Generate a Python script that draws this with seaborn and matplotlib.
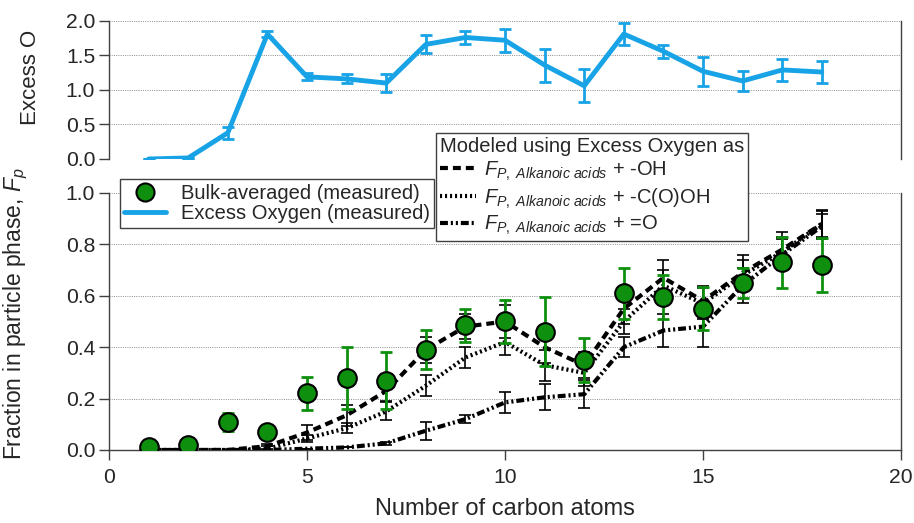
import matplotlib
matplotlib.use("Agg")
import matplotlib.pyplot as plt
from matplotlib.lines import Line2D
import seaborn as sns
import numpy as np
import pandas as pd

# ---------------- data ----------------
carbon = [1, 2, 3, 4, 5, 6, 7, 8, 9, 10, 11, 12, 13, 14, 15, 16, 17, 18]

excess_o = [0.0, 0.015, 0.38, 1.81, 1.19, 1.16, 1.10, 1.66, 1.76, 1.72, 1.36, 1.06, 1.81, 1.56, 1.27, 1.13, 1.29, 1.26]
excess_o_err = [0.0, 0.0, 0.09, 0.05, 0.05, 0.065, 0.13, 0.13, 0.10, 0.17, 0.24, 0.24, 0.165, 0.09, 0.21, 0.14, 0.165, 0.16]

bulk = [0.01, 0.02, 0.11, 0.07, 0.22, 0.28, 0.27, 0.39, 0.485, 0.50, 0.46, 0.35, 0.61, 0.595, 0.55, 0.65, 0.73, 0.72]
bulk_err = [0.0, 0.0, 0.035, 0.01, 0.065, 0.12, 0.11, 0.075, 0.065, 0.085, 0.135, 0.085, 0.10, 0.085, 0.085, 0.06, 0.10, 0.105]

model_oh = [0.0, 0.0, 0.0, 0.015, 0.068, 0.135, 0.23, 0.39, 0.48, 0.50, 0.40, 0.33, 0.55, 0.67, 0.58, 0.69, 0.78, 0.88]
model_oh_err = [0.0, 0.0, 0.0, 0.01, 0.03, 0.04, 0.04, 0.05, 0.05, 0.065, 0.06, 0.05, 0.06, 0.07, 0.06, 0.07, 0.07, 0.055]

model_cooh = [0.0, 0.0, 0.0, 0.005, 0.045, 0.085, 0.15, 0.25, 0.36, 0.42, 0.33, 0.30, 0.50, 0.64, 0.57, 0.68, 0.77, 0.88]
model_cooh_err = [0.0, 0.0, 0.0, 0.01, 0.015, 0.02, 0.035, 0.04, 0.04, 0.05, 0.06, 0.05, 0.05, 0.06, 0.06, 0.06, 0.06, 0.05]

model_o = [0.0, 0.0, 0.0, 0.0, 0.005, 0.01, 0.026, 0.075, 0.12, 0.185, 0.205, 0.217, 0.40, 0.465, 0.48, 0.64, 0.76, 0.87]
model_o_err = [0.0, 0.0, 0.0, 0.0, 0.0, 0.0, 0.005, 0.035, 0.015, 0.04, 0.05, 0.055, 0.04, 0.065, 0.08, 0.07, 0.06, 0.05]

top_yticks = [0.0, 0.5, 1.0, 1.5, 2.0]
bottom_yticks = [0.0, 0.2, 0.4, 0.6, 0.8, 1.0]
xticks = [0, 5, 10, 15, 20]

# ---------------- style ----------------
sns.set_theme(style="white")
plt.rcParams["font.family"] = ["Liberation Sans", "DejaVu Sans"]
plt.rcParams["mathtext.fontset"] = "custom"
plt.rcParams["mathtext.rm"] = "Liberation Sans"
plt.rcParams["mathtext.it"] = "Liberation Sans:italic"
plt.rcParams["mathtext.bf"] = "Liberation Sans:bold"

BLUE = "#17A3E6"
GREEN = "#0E900E"
GRID = "#8C8C8C"
SPINE = "#404040"

ls_dash = (0, (1.9, 1.2))
ls_dot = (0, (0.5, 0.7))
ls_dashdot = (0, (1.9, 0.7, 0.5, 0.7, 0.5, 0.7))
LW = 3.0

df = pd.DataFrame({
    "carbon": carbon, "excess_o": excess_o, "bulk": bulk,
    "oh": model_oh, "cooh": model_cooh, "o": model_o,
})

fig = plt.figure(figsize=(9.14, 5.23), dpi=100)
ax_top = fig.add_axes([0.1193, 0.696, 0.8665, 0.264])
ax = fig.add_axes([0.1193, 0.1396, 0.8665, 0.4914])

# ---------------- top panel ----------------
for y in top_yticks:
    ax_top.axhline(y, color=GRID, lw=0.7, ls=(0, (1, 1.3)), zorder=0)
ax_top.errorbar(carbon, excess_o, yerr=excess_o_err, fmt="none", ecolor=BLUE,
                elinewidth=2.0, capsize=4, capthick=2.0, zorder=2)
sns.lineplot(data=df, x="carbon", y="excess_o", ax=ax_top, color=BLUE, lw=3.5,
             estimator=None, sort=False, zorder=3)
ax_top.set_xlim(0, 20)
ax_top.set_ylim(0, 2.0)
ax_top.set_yticks(top_yticks)
ax_top.set_yticklabels([f"{v:.1f}" for v in top_yticks])
ax_top.set_xticks([])
ax_top.set_xlabel("")
ax_top.set_ylabel("")
for s in ["top", "bottom"]:
    ax_top.spines[s].set_visible(False)
for s in ["left", "right"]:
    ax_top.spines[s].set_color(SPINE)
    ax_top.spines[s].set_linewidth(1.0)
ax_top.tick_params(axis="y", which="both", left=True, right=False, length=7, width=1.0,
                   color=SPINE, labelsize=15.2, pad=3)
ax_top.patch.set_alpha(0)

# ---------------- bottom panel ----------------
for y in bottom_yticks:
    ax.axhline(y, color=GRID, lw=0.7, ls=(0, (1, 1.3)), zorder=0)

ax.errorbar(carbon, model_oh, yerr=model_oh_err, fmt="none", ecolor="black",
            elinewidth=1.2, capsize=4, capthick=1.2, zorder=2)
ax.errorbar(carbon, model_cooh, yerr=model_cooh_err, fmt="none", ecolor="black",
            elinewidth=1.2, capsize=4, capthick=1.2, zorder=2)
ax.errorbar(carbon, model_o, yerr=model_o_err, fmt="none", ecolor="black",
            elinewidth=1.2, capsize=4, capthick=1.2, zorder=2)

sns.lineplot(data=df, x="carbon", y="oh", ax=ax, color="black", lw=LW,
             linestyle=ls_dash, estimator=None, sort=False, zorder=3)
sns.lineplot(data=df, x="carbon", y="cooh", ax=ax, color="black", lw=LW,
             linestyle=ls_dot, estimator=None, sort=False, zorder=3)
sns.lineplot(data=df, x="carbon", y="o", ax=ax, color="black", lw=LW,
             linestyle=ls_dashdot, estimator=None, sort=False, zorder=3)

ax.errorbar(carbon, bulk, yerr=bulk_err, fmt="none", ecolor=GREEN,
            elinewidth=2.0, capsize=4.5, capthick=2.0, zorder=4)
sns.scatterplot(data=df, x="carbon", y="bulk", ax=ax, color=GREEN, s=180,
                edgecolor="black", linewidth=1.5, zorder=5)

ax.set_xlim(0, 20)
ax.set_ylim(0, 1.0)
ax.set_xticks(xticks)
ax.set_xticklabels([str(v) for v in xticks])
ax.set_yticks(bottom_yticks)
ax.set_yticklabels([f"{v:.1f}" for v in bottom_yticks])
ax.set_ylabel("")
ax.set_xlabel("Number of carbon atoms", fontsize=17, labelpad=8)
ax.spines["top"].set_visible(False)
for s in ["left", "bottom", "right"]:
    ax.spines[s].set_color(SPINE)
    ax.spines[s].set_linewidth(1.0)
ax.tick_params(axis="both", which="both", length=7, width=1.0, color=SPINE,
               labelsize=15.2, pad=3)
ax.tick_params(axis="x", bottom=True, pad=6)
ax.tick_params(axis="y", left=True, right=False)
ax.patch.set_alpha(0)

# ---------------- labels ----------------
fig.text(0.033, 0.853, "Excess O", rotation=90, ha="center", va="center", fontsize=16)
fig.text(0.017, 0.40, r"Fraction in particle phase, $F_p$", rotation=90,
         ha="center", va="center", fontsize=16.5)

# ---------------- legends ----------------
h_bulk = Line2D([], [], marker="o", ls="none", markersize=13,
                markerfacecolor=GREEN, markeredgecolor="black", markeredgewidth=1.5)
h_blue = Line2D([], [], color=BLUE, lw=3.5)
leg1 = fig.legend([h_bulk, h_blue], ["Bulk-averaged (measured)", "Excess Oxygen (measured)"],
                  loc="upper left", bbox_to_anchor=(0.131, 0.657), fontsize=14.5,
                  frameon=True, fancybox=False, edgecolor=SPINE, framealpha=1,
                  borderpad=0.22, labelspacing=0.08, handlelength=2.1,
                  handletextpad=0.7, borderaxespad=0)
leg1.get_frame().set_linewidth(1.0)

h_oh = Line2D([], [], color="black", lw=LW, ls=ls_dash)
h_cooh = Line2D([], [], color="black", lw=LW, ls=ls_dot)
h_o = Line2D([], [], color="black", lw=LW, ls=ls_dashdot)
sub = r"$F_{P,\ Alkanoic\ acids}$"
leg2 = fig.legend([h_oh, h_cooh, h_o],
                  [sub + " + -OH", sub + " + -C(O)OH", sub + " + =O"],
                  title="Modeled using Excess Oxygen as",
                  loc="upper left", bbox_to_anchor=(0.477, 0.746), fontsize=14.5,
                  title_fontsize=14.5, frameon=True, fancybox=False,
                  edgecolor=SPINE, framealpha=1, borderpad=0.2,
                  labelspacing=0.18, handlelength=1.8, handletextpad=0.4,
                  borderaxespad=0, alignment="left")
leg2.get_frame().set_linewidth(1.0)

fig.savefig("out.png", dpi=100)
